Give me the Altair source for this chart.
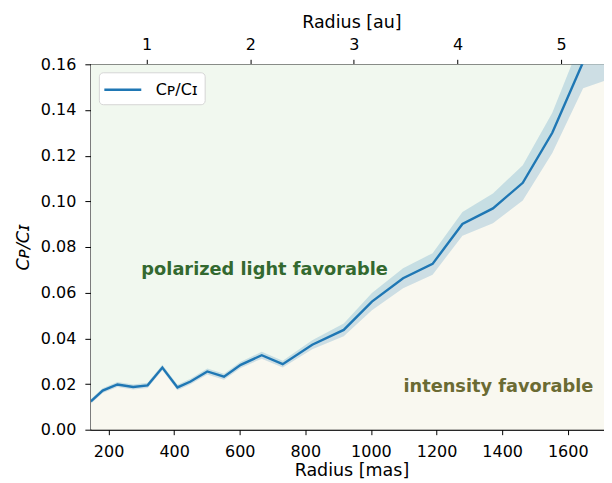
import altair as alt
import pandas as pd

# Radius in mas, contrast ratio and its uncertainty
radius_mas = [146, 182, 227, 275, 319, 364, 410, 450, 501, 552, 603, 667, 731,
              821, 917, 1003, 1098, 1188, 1279, 1372, 1463, 1553, 1647, 1738]
ratio = [0.0124, 0.0171, 0.0198, 0.0187, 0.0194, 0.0272, 0.0185, 0.0211, 0.0255,
         0.0232, 0.0284, 0.0326, 0.0287, 0.0372, 0.0437, 0.0561, 0.0663, 0.0726,
         0.0901, 0.0969, 0.1081, 0.1300, 0.1610, 0.1700]
err = [0.0010, 0.0010, 0.0011, 0.0011, 0.0011, 0.0012, 0.0012, 0.0012, 0.0013,
       0.0013, 0.0014, 0.0015, 0.0015, 0.0020, 0.0028, 0.0038, 0.0044, 0.0047,
       0.0052, 0.0065, 0.0077, 0.0088, 0.0115, 0.0160]

mas_ticks = [200, 400, 600, 800, 1000, 1200, 1400, 1600]
y_ticks = [0.0, 0.02, 0.04, 0.06, 0.08, 0.10, 0.12, 0.14, 0.16]
au_ticks = [1, 2, 3, 4, 5]
mas_per_au = 316.0
x_domain = [146, 1735]
y_domain = [0.0, 0.16]

series_label = "Cᴘ/Cɪ"

df = pd.DataFrame({
    "r": radius_mas,
    "c": ratio,
    "lo": [a - b for a, b in zip(ratio, err)],
    "hi": [a + b for a, b in zip(ratio, err)],
    "s": [series_label] * len(ratio),
})

labels_df = pd.DataFrame({
    "r": [300, 1099],
    "c": [0.0700, 0.0188],
    "t": ["polarized light favorable", "intensity favorable"],
    "col": ["#33692f", "#6b6b33"],
})

au_df = pd.DataFrame({"au": au_ticks})

xs = alt.Scale(domain=x_domain, nice=False, zero=False)
ys = alt.Scale(domain=y_domain, nice=False, zero=False)

x_bottom = alt.X("r:Q", scale=xs, axis=alt.Axis(values=mas_ticks, title="Radius [mas]",
                                                  orient="bottom", grid=False, format="d",
                                                  tickSize=5, labelPadding=9,
                                                  titlePadding=2))
y_left = alt.Y("c:Q", scale=ys, axis=alt.Axis(values=y_ticks, format=".2f",
                                               title=series_label, grid=False,
                                               titleFontStyle="italic",
                                               tickSize=6, labelPadding=9,
                                               titlePadding=8))

base = alt.Chart(df)

below = base.mark_area(color="#f9f8f0", clip=True).encode(
    x=x_bottom, y=y_left, y2=alt.datum(0.0))
above = base.mark_area(color="#f1f8ef", clip=True).encode(
    x=alt.X("r:Q"), y=alt.Y("c:Q"), y2=alt.datum(0.16))
band = base.mark_area(color="#1f77b4", opacity=0.2, clip=True).encode(
    x=alt.X("r:Q"), y=alt.Y("lo:Q"), y2="hi:Q")
line = base.mark_line(strokeWidth=2.4, clip=True).encode(
    x=alt.X("r:Q"), y=alt.Y("c:Q"),
    color=alt.Color("s:N", scale=alt.Scale(domain=[series_label], range=["#1f77b4"]),
                    legend=alt.Legend(title=None, orient="none", legendX=8, legendY=8,
                                      fillColor="white", strokeColor="#d5d5d5",
                                      cornerRadius=4, padding=6,
                                      symbolType="M-1.85,0H1.85", symbolSize=400,
                                      symbolOffset=6.5,
                                      symbolStrokeWidth=2.4, labelFontSize=16,
                                      labelFont="DejaVu Sans", labelColor="black",
                                      labelOffset=21.5)))

texts = alt.Chart(labels_df).mark_text(align="left", baseline="middle",
                                       fontWeight="bold", fontSize=17.8,
                                       font="DejaVu Sans").encode(
    x=alt.X("r:Q"), y=alt.Y("c:Q"),
    text="t:N", color=alt.Color("col:N", scale=None))

main = alt.layer(below, above, band, line, texts)

top = alt.Chart(au_df).mark_point(opacity=0).encode(
    x=alt.X("au:Q",
            scale=alt.Scale(domain=[x_domain[0] / mas_per_au, x_domain[1] / mas_per_au],
                            nice=False, zero=False),
            axis=alt.Axis(values=au_ticks, orient="top", title="Radius [au]",
                          format="d", grid=False, tickSize=5, labelPadding=7,
                          titlePadding=5)))

chart = alt.layer(main, top).resolve_scale(
    x="independent"
).properties(
    width=522, height=366,
    padding={"left": 6, "top": 5, "right": -8, "bottom": 0},
).configure_view(
    stroke="black", strokeWidth=1.2
).configure_axis(
    labelFont="DejaVu Sans", titleFont="DejaVu Sans",
    labelFontSize=16, titleFontSize=17.5, titleFontWeight="normal",
    labelColor="black", titleColor="black",
    domainColor="black", tickColor="black", tickWidth=1,
)

chart.save("out.html", embed_options={"renderer": "svg", "actions": False})
